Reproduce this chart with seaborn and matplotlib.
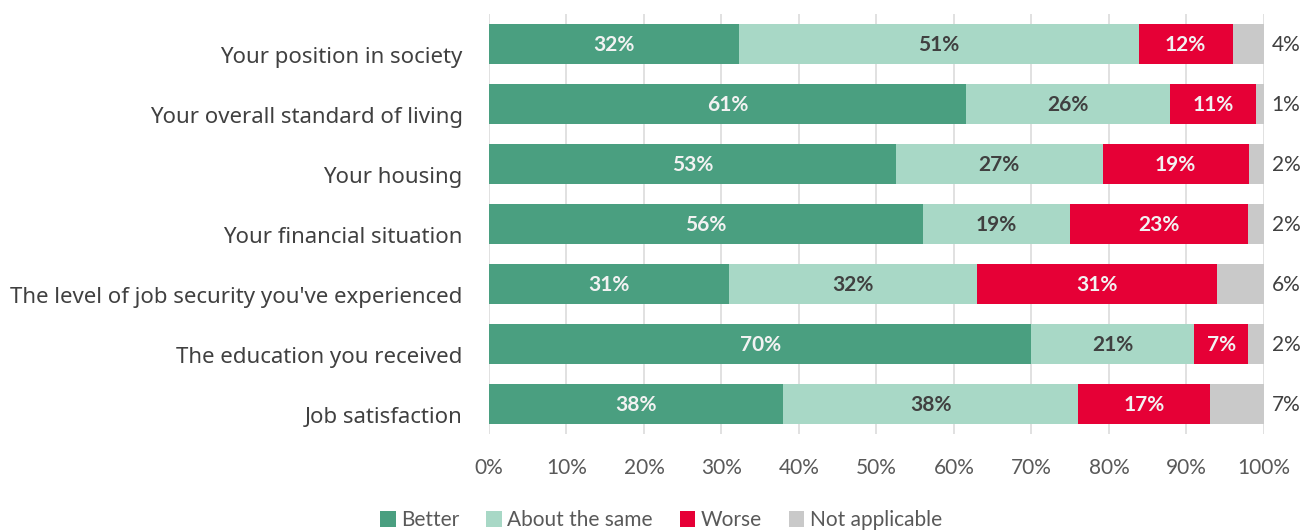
import numpy as np
import pandas as pd
import seaborn as sns
import matplotlib
matplotlib.use("Agg")
import matplotlib.pyplot as plt
from matplotlib.patches import Patch
from matplotlib.transforms import ScaledTranslation

categories = [
    "Your position in society",
    "Your overall standard of living",
    "Your housing",
    "Your financial situation",
    "The level of job security you've experienced",
    "The education you received",
    "Job satisfaction",
]
better = [32, 61, 53, 56, 31, 70, 38]
same = [51, 26, 27, 19, 32, 21, 38]
worse = [12, 11, 19, 23, 31, 7, 17]
not_applicable = [4, 1, 2, 2, 6, 2, 7]
series_names = ["Better", "About the same", "Worse", "Not applicable"]
colors = ["#4a9f80", "#a8d8c6", "#e60036", "#c9c9c9"]
label_colors = ["#f2f2f2", "#404040", "#f2f2f2", "#404040"]
xticks = [0, 10, 20, 30, 40, 50, 60, 70, 80, 90, 100]

sns.set_theme(style="white")
num_font = ["Lato", "DejaVu Sans"]
plt.rcParams["font.family"] = ["Noto Sans", "DejaVu Sans"]

vals = np.array([better, same, worse, not_applicable], dtype=float)  # 4 x 7
totals = vals.sum(axis=0)
share = vals / totals * 100.0
cum = np.cumsum(share, axis=0)

fig = plt.figure(figsize=(13.14, 5.31), dpi=100)
ax = fig.add_axes([0.3721, 0.1827, 0.5898, 0.7909])

for k in range(3, -1, -1):
    df = pd.DataFrame({"cat": categories, "val": cum[k]})
    sns.barplot(data=df, x="val", y="cat", orient="h", color=colors[k],
                saturation=1, width=0.667, linewidth=0, ax=ax, zorder=2)

for i in range(len(categories)):
    for k in range(4):
        left = cum[k, i] - share[k, i]
        txt = f"{int(vals[k, i])}%"
        if k < 3:
            ax.text(left + share[k, i] / 2, i + 0.02, txt, ha="center", va="center",
                    color=label_colors[k], fontsize=15, fontweight="bold",
                    family=num_font, zorder=3)
        else:
            ax.text(101.0, i + 0.02, txt, ha="left", va="center",
                    color="#404040", fontsize=15, family=num_font, zorder=3)

ax.set_xlim(0, 100)
ax.set_ylim(len(categories) - 0.5, -0.5)
ax.set_xticks(xticks)
ax.set_xticklabels([f"{t}%" for t in xticks], family=num_font, fontsize=15, color="#595959")
ax.tick_params(axis="x", length=0, pad=17)
ax.tick_params(axis="y", length=0, pad=19, labelsize=16, labelcolor="#404040")
ax.set_xlabel("")
ax.set_ylabel("")
for s in ax.spines.values():
    s.set_visible(False)
ax.xaxis.grid(True, color="#d9d9d9", linewidth=1.1, zorder=0)
ax.set_axisbelow(True)

shift = ScaledTranslation(0, -0.11, fig.dpi_scale_trans)
for lab in ax.get_yticklabels():
    lab.set_transform(lab.get_transform() + shift)

handles = [Patch(facecolor=c, edgecolor="none") for c in colors]
fig.legend(handles, series_names, loc="center", bbox_to_anchor=(0.503, 0.02),
           ncol=4, frameon=False, handlelength=0.75, handleheight=0.75,
           handletextpad=0.25, columnspacing=1.3,
           prop={"family": num_font, "size": 15}, labelcolor="#595959")

fig.savefig("out.png", dpi=100)
